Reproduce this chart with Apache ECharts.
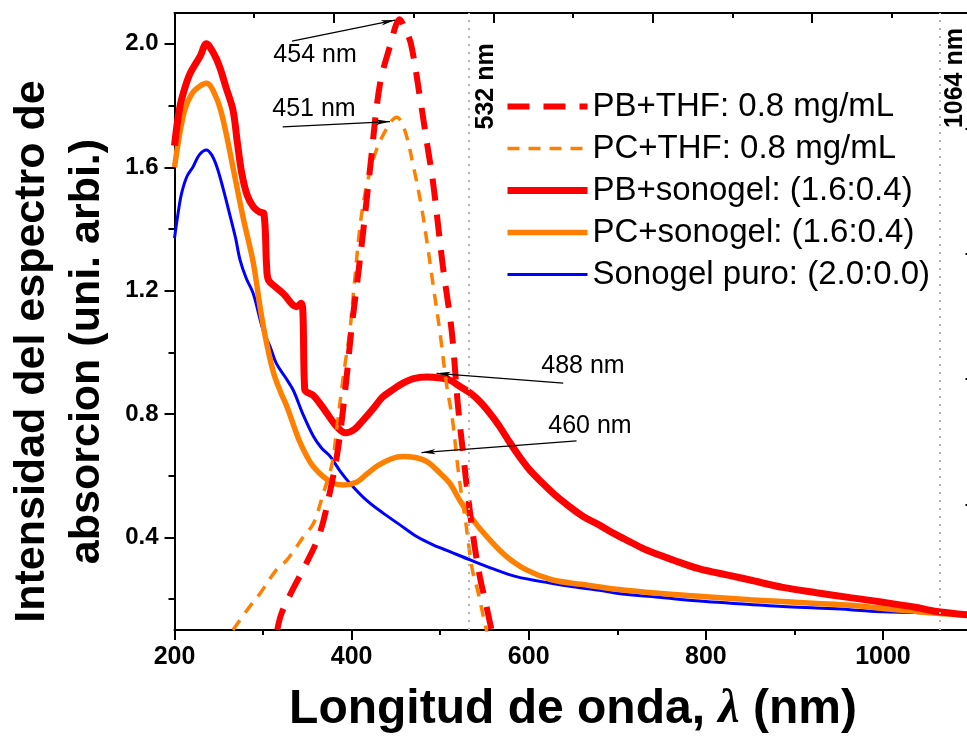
<!DOCTYPE html>
<html>
<head>
<meta charset="utf-8">
<script src="https://cdn.jsdelivr.net/npm/echarts@6/dist/echarts.min.js"></script>
<style>
  html, body { margin: 0; padding: 0; background: #fff; }
  #main { width: 967px; height: 736px; }
</style>
</head>
<body>
<div id="main"></div>
<script>
// wavelength (nm), absorbance (arb. units)
var pbThf = [[316,0.10],[321,0.155],[335,0.24],[347,0.305],[364,0.413],[376,0.554],[385,0.694],[394,0.91],[400,1.08],[406,1.22],[413,1.39],[421,1.60],[432,1.87],[444,2.00],[450,2.06],[454,2.08],[460,2.05],[467,2.00],[477,1.83],[485,1.68],[492,1.55],[503,1.28],[513,1.07],[520,0.83],[526,0.67],[532,0.52],[539,0.37],[545,0.27],[552,0.18],[558,0.10]];
var pcThf = [[266,0.10],[285,0.176],[297,0.22],[315,0.295],[327,0.327],[345,0.40],[357,0.446],[368,0.543],[378,0.64],[383,0.748],[391,0.93],[398,1.07],[403,1.22],[410,1.42],[417,1.54],[428,1.656],[443,1.742],[451,1.762],[460,1.72],[470,1.60],[479,1.47],[485,1.36],[492,1.22],[500,1.06],[507,0.90],[514,0.78],[519,0.65],[524,0.54],[529,0.446],[536,0.30],[543,0.22],[549,0.14],[553,0.09]];
var pbSono = [[200,1.67],[204,1.76],[208,1.82],[217,1.90],[229,1.96],[236,2.00],[244,1.97],[251,1.925],[258,1.86],[266,1.786],[271,1.68],[276,1.58],[282,1.51],[289,1.472],[296,1.455],[301,1.45],[304,1.28],[306,1.235],[315,1.21],[323,1.19],[338,1.148],[343,1.159],[345,1.13],[347,0.88],[350,0.87],[356,0.862],[364,0.835],[372,0.803],[383,0.76],[393,0.739],[403,0.75],[413,0.78],[425,0.82],[435,0.855],[447,0.88],[458,0.90],[470,0.915],[485,0.92],[500,0.917],[511,0.91],[522,0.89],[534,0.868],[545,0.84],[556,0.803],[567,0.76],[579,0.706],[590,0.66],[601,0.619],[616,0.575],[632,0.532],[646,0.50],[662,0.467],[680,0.44],[696,0.413],[715,0.385],[733,0.359],[763,0.327],[793,0.298],[825,0.278],[850,0.262],[887,0.238],[925,0.221],[963,0.205],[1000,0.19],[1038,0.173],[1061,0.160],[1100,0.148]];
var pcSono = [[200,1.60],[206,1.71],[212,1.79],[220,1.84],[228,1.862],[236,1.872],[248,1.82],[256,1.74],[266,1.60],[278,1.43],[289,1.29],[297,1.14],[304,1.03],[312,0.932],[320,0.87],[327,0.824],[340,0.72],[350,0.66],[357,0.629],[368,0.597],[380,0.575],[391,0.57],[406,0.58],[417,0.605],[428,0.63],[445,0.655],[458,0.662],[470,0.66],[485,0.646],[500,0.608],[511,0.575],[522,0.521],[537,0.457],[556,0.392],[575,0.338],[598,0.294],[627,0.262],[660,0.248],[699,0.232],[750,0.218],[800,0.208],[850,0.198],[887,0.192],[925,0.186],[963,0.180],[1000,0.170],[1030,0.162],[1061,0.154],[1100,0.148]];
var sonogel = [[200,1.37],[204,1.45],[208,1.515],[214,1.57],[221,1.602],[228,1.64],[236,1.656],[242,1.64],[248,1.60],[255,1.53],[263,1.44],[269,1.37],[274,1.30],[281,1.24],[289,1.19],[300,1.072],[308,1.018],[315,0.964],[325,0.92],[334,0.878],[345,0.80],[357,0.727],[366,0.69],[376,0.662],[387,0.615],[398,0.576],[417,0.52],[436,0.478],[455,0.44],[474,0.402],[492,0.376],[511,0.354],[534,0.327],[560,0.298],[586,0.273],[624,0.252],[650,0.24],[680,0.229],[699,0.219],[750,0.205],[800,0.192],[850,0.183],[887,0.176],[925,0.171],[963,0.166],[1000,0.159],[1030,0.157],[1061,0.154],[1100,0.147]];

var seriesNames = ['PB+THF: 0.8 mg/mL', 'PC+THF: 0.8 mg/mL', 'PB+sonogel: (1.6:0.4)', 'PC+sonogel: (1.6:0.4)', 'Sonogel puro: (2.0:0.0)'];

var xMajor = [200, 400, 600, 800, 1000];
var xMinor = [300, 500, 700, 900];
var yMajor = [0.4, 0.8, 1.2, 1.6, 2.0];
var yMinor = [0.2, 0.6, 1.0, 1.4, 1.8];

// peak annotations
var peakLabels = ['454 nm', '451 nm', '488 nm', '460 nm'];
var peakLabelPos = [[358.7, 1.964], [357.5, 1.789], [661.3, 0.956], [669.2, 0.761]];
var arrowFrom = [[332.7, 2.009], [322.2, 1.731], [639, 0.900], [654, 0.713]];
var arrowTo = [[449, 2.077], [443.3, 1.748], [496, 0.932], [479, 0.675]];

// laser lines
var laserLines = [532, 1064];
var laserLabels = ['532 nm', '1064 nm'];
var laserLabelPos = [[551.7, 1.862], [1081.9, 1.889]];

var FONT = '"Liberation Sans", Arial, Helvetica, sans-serif';
var BLACK = '#000';
var SMOOTH = 0.35;

var chart = echarts.init(document.getElementById('main'));

function tick(values, len, inside) {
    return { show: true, inside: !!inside, customValues: values, length: len, lineStyle: { color: BLACK, width: 2 } };
}

var arrowData = [];
for (var i = 0; i < arrowFrom.length; i++) {
    arrowData.push([{ coord: arrowFrom[i] }, { coord: arrowTo[i] }]);
}
var textData = [];
for (var i = 0; i < peakLabels.length; i++) {
    textData.push({ name: peakLabels[i], coord: peakLabelPos[i] });
}
for (var i = 0; i < laserLabels.length; i++) {
    textData.push({ name: laserLabels[i], coord: laserLabelPos[i], label: { rotate: 90, fontWeight: 'bold', fontSize: 25 } });
}

chart.setOption({
    animation: false,
    backgroundColor: '#fff',
    grid: { left: 174.5, right: -4.5, top: 13, bottom: 106, containLabel: false, outerBoundsMode: 'none' },
    legend: {
        data: seriesNames,
        orient: 'vertical',
        left: 504,
        top: 90,
        padding: 0,
        itemWidth: 80,
        itemHeight: 14,
        itemGap: 9,
        selectedMode: false,
        itemStyle: { opacity: 0 },
        lineStyle: { width: 'inherit', type: 'inherit' },
        textStyle: { fontSize: 33, lineHeight: 31, color: BLACK, fontFamily: FONT }
    },
    xAxis: [{
        type: 'value', position: 'bottom', min: 200, max: 1100,
        axisLine: { show: true, onZero: false, lineStyle: { color: BLACK, width: 2 } },
        axisTick: tick(xMajor, 10),
        axisLabel: {
            customValues: xMajor, margin: 15, color: BLACK, fontSize: 25, fontWeight: 'bold', fontFamily: FONT,
            formatter: function (v) { return String(v); }
        },
        splitLine: { show: false },
        name: 'Longitud de onda, {l|λ} (nm)',
        nameLocation: 'middle',
        nameGap: 56,
        nameTextStyle: {
            fontSize: 48, fontWeight: 'bold', color: BLACK, fontFamily: FONT,
            rich: { l: { fontSize: 48, fontStyle: 'italic', fontFamily: '"Liberation Serif", "Times New Roman", serif', color: BLACK } }
        }
    }, {
        type: 'value', position: 'bottom', min: 200, max: 1100,
        axisLine: { show: false, onZero: false },
        axisTick: tick(xMinor, 5),
        axisLabel: { show: false },
        splitLine: { show: false }
    }, {
        type: 'value', position: 'top', min: 0, max: 10,
        axisLine: { show: true, onZero: false, lineStyle: { color: BLACK, width: 2 } },
        axisTick: tick([0, 2, 4, 6, 8, 10], 10, true),
        axisLabel: { show: false },
        splitLine: { show: false }
    }, {
        type: 'value', position: 'top', min: 0, max: 10,
        axisLine: { show: false, onZero: false },
        axisTick: tick([1, 3, 5, 7, 9], 5, true),
        axisLabel: { show: false },
        splitLine: { show: false }
    }],
    yAxis: [{
        type: 'value', position: 'left', min: 0.1, max: 2.1,
        axisLine: { show: true, onZero: false, lineStyle: { color: BLACK, width: 2 } },
        axisTick: tick(yMajor, 10),
        axisLabel: {
            customValues: yMajor, margin: 16, color: BLACK, fontSize: 24, fontWeight: 'bold', fontFamily: FONT,
            formatter: function (v) { return v.toFixed(1); }
        },
        splitLine: { show: false },
        name: 'Intensidad del espectro de\nabsorcion (uni. arbi.)',
        nameLocation: 'middle',
        nameRotate: 90,
        nameGap: 40,
        nameTextStyle: { fontSize: 43, fontWeight: 'bold', lineHeight: 55, color: BLACK, fontFamily: FONT, align: 'center', padding: [0, 60, 0, 0] }
    }, {
        type: 'value', position: 'left', min: 0.1, max: 2.1,
        axisLine: { show: false, onZero: false },
        axisTick: tick(yMinor, 6),
        axisLabel: { show: false },
        splitLine: { show: false }
    }, {
        type: 'value', position: 'right', min: 0, max: 9.84,
        axisLine: { show: true, onZero: false, lineStyle: { color: BLACK, width: 2 } },
        axisTick: tick([0, 2, 4, 6, 8], 6, true),
        axisLabel: { show: false },
        splitLine: { show: false }
    }, {
        type: 'value', position: 'right', min: 0, max: 9.84,
        axisLine: { show: false, onZero: false },
        axisTick: tick([1, 3, 5, 7, 9], 3, true),
        axisLabel: { show: false },
        splitLine: { show: false }
    }],
    series: [{
        name: seriesNames[4], type: 'line', data: sonogel, symbol: 'none', smooth: SMOOTH,
        lineStyle: { color: '#0000ff', width: 3 }, itemStyle: { color: '#0000ff' },
        markLine: {
            silent: true, symbol: ['none', 'none'], label: { show: false },
            lineStyle: { color: '#b4b4b4', width: 2, type: [2, 6] },
            data: laserLines.map(function (v) { return { xAxis: v }; })
        }
    }, {
        name: seriesNames[3], type: 'line', data: pcSono, symbol: 'none', smooth: SMOOTH,
        lineStyle: { color: '#ff8000', width: 5.5 }, itemStyle: { color: '#ff8000' }
    }, {
        name: seriesNames[2], type: 'line', data: pbSono, symbol: 'none', smooth: SMOOTH,
        lineStyle: { color: '#ff0000', width: 7 }, itemStyle: { color: '#ff0000' }
    }, {
        name: seriesNames[1], type: 'line', data: pcThf, symbol: 'none', smooth: SMOOTH,
        lineStyle: { color: '#ff8000', width: 3.5, type: [12, 9] }, itemStyle: { color: '#ff8000' }
    }, {
        name: seriesNames[0], type: 'line', data: pbThf, symbol: 'none', smooth: SMOOTH,
        lineStyle: { color: '#ff0000', width: 6, type: [22, 14] }, itemStyle: { color: '#ff0000' },
        markLine: {
            silent: true, symbol: ['none', 'arrow'], symbolSize: [4, 14], label: { show: false },
            lineStyle: { color: BLACK, width: 1.2, type: 'solid' },
            data: arrowData
        },
        markPoint: {
            silent: true, symbol: 'rect', symbolSize: 1,
            itemStyle: { color: 'rgba(0,0,0,0)' },
            label: { show: true, position: 'inside', formatter: '{b}', color: BLACK, fontSize: 25, fontFamily: FONT },
            data: textData
        }
    }]
});
</script>
</body>
</html>
